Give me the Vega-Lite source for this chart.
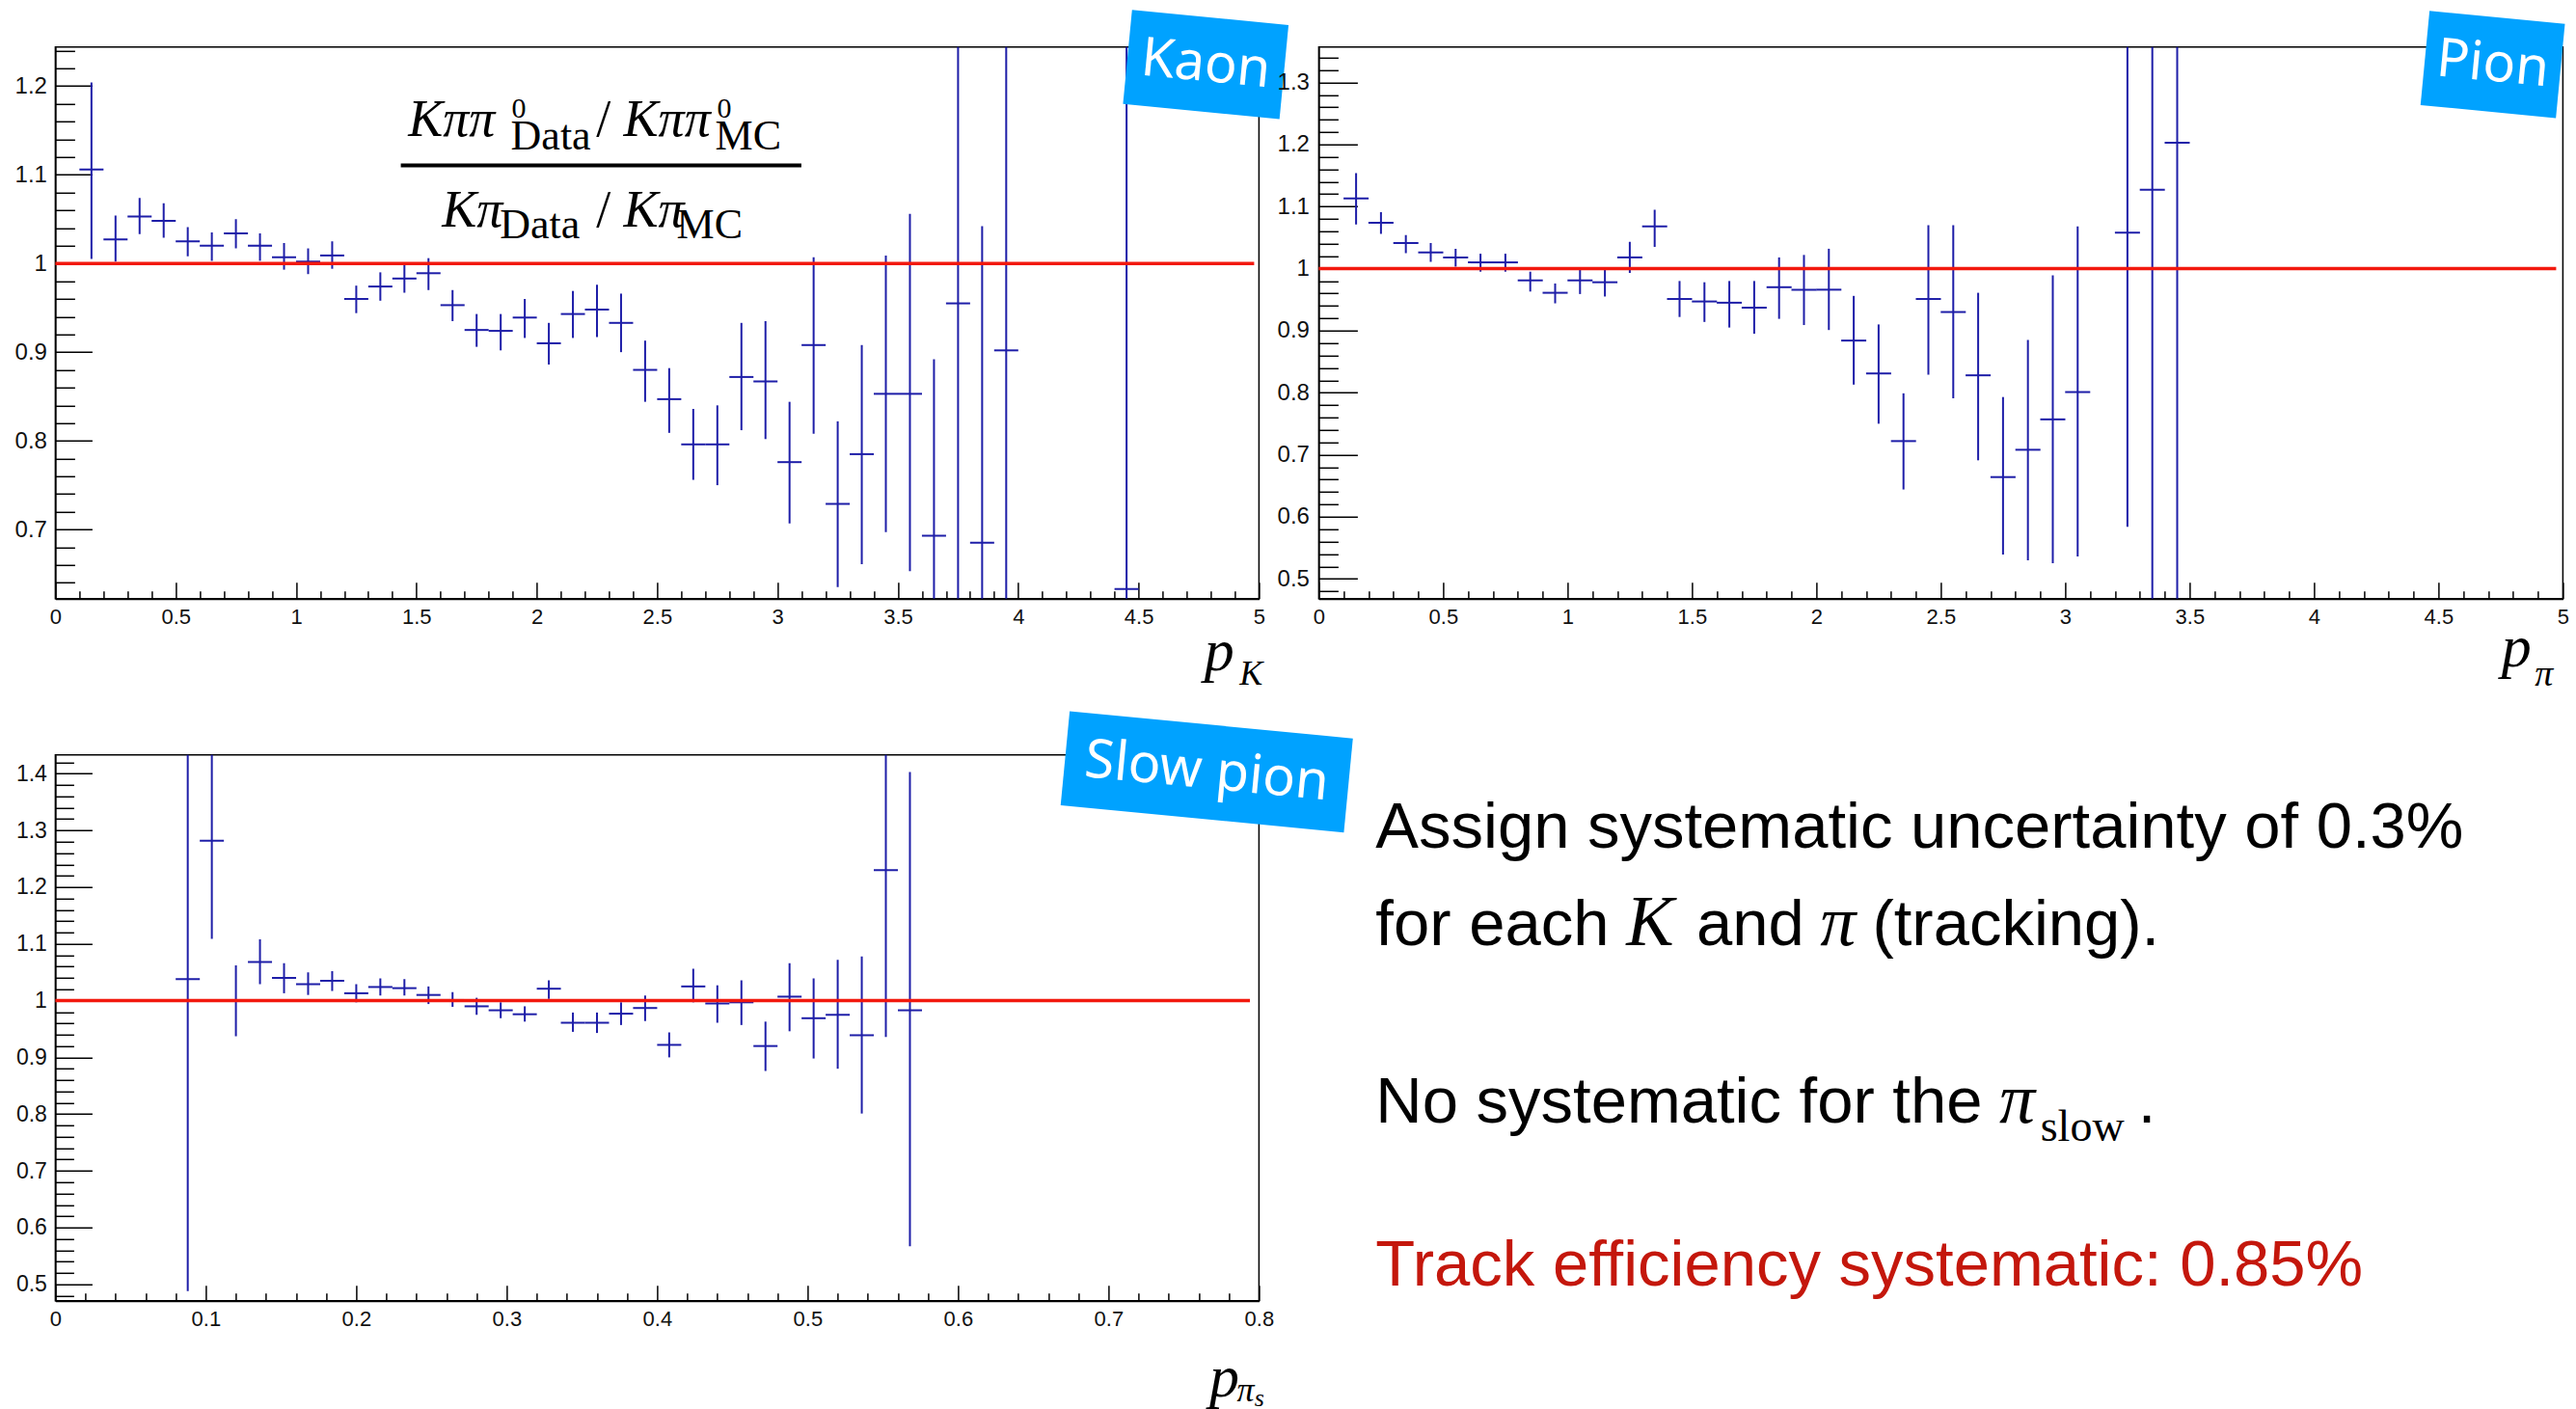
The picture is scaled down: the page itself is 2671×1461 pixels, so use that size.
{
  "$schema": "https://vega.github.io/schema/vega-lite/v6.json",
  "background": "white",
  "padding": {"left": 13.4, "top": 8.8, "right": 0, "bottom": 0},
  "columns": 2,
  "spacing": {"row": 162, "column": 62},
  "bounds": "flush",
  "align": "each",
  "datasets": {
    "kaon": [
      {"p": 0.15, "v": 1.106, "lo": 1.005, "hi": 1.204},
      {"p": 0.25, "v": 1.027, "lo": 1.002, "hi": 1.054},
      {"p": 0.35, "v": 1.053, "lo": 1.033, "hi": 1.074},
      {"p": 0.45, "v": 1.048, "lo": 1.029, "hi": 1.068},
      {"p": 0.55, "v": 1.025, "lo": 1.008, "hi": 1.041},
      {"p": 0.65, "v": 1.020, "lo": 1.003, "hi": 1.035},
      {"p": 0.75, "v": 1.034, "lo": 1.017, "hi": 1.050},
      {"p": 0.85, "v": 1.020, "lo": 1.003, "hi": 1.034},
      {"p": 0.95, "v": 1.007, "lo": 0.993, "hi": 1.023},
      {"p": 1.05, "v": 1.002, "lo": 0.988, "hi": 1.017},
      {"p": 1.15, "v": 1.009, "lo": 0.994, "hi": 1.025},
      {"p": 1.25, "v": 0.960, "lo": 0.944, "hi": 0.975},
      {"p": 1.35, "v": 0.974, "lo": 0.958, "hi": 0.990},
      {"p": 1.45, "v": 0.983, "lo": 0.967, "hi": 1.000},
      {"p": 1.55, "v": 0.989, "lo": 0.970, "hi": 1.006},
      {"p": 1.65, "v": 0.953, "lo": 0.935, "hi": 0.970},
      {"p": 1.75, "v": 0.925, "lo": 0.906, "hi": 0.943},
      {"p": 1.85, "v": 0.924, "lo": 0.902, "hi": 0.943},
      {"p": 1.95, "v": 0.939, "lo": 0.916, "hi": 0.960},
      {"p": 2.05, "v": 0.910, "lo": 0.886, "hi": 0.933},
      {"p": 2.15, "v": 0.943, "lo": 0.916, "hi": 0.969},
      {"p": 2.25, "v": 0.948, "lo": 0.917, "hi": 0.976},
      {"p": 2.35, "v": 0.933, "lo": 0.900, "hi": 0.966},
      {"p": 2.45, "v": 0.880, "lo": 0.844, "hi": 0.913},
      {"p": 2.55, "v": 0.847, "lo": 0.809, "hi": 0.882},
      {"p": 2.65, "v": 0.796, "lo": 0.756, "hi": 0.836},
      {"p": 2.75, "v": 0.796, "lo": 0.750, "hi": 0.840},
      {"p": 2.85, "v": 0.872, "lo": 0.812, "hi": 0.933},
      {"p": 2.95, "v": 0.867, "lo": 0.802, "hi": 0.935},
      {"p": 3.05, "v": 0.776, "lo": 0.707, "hi": 0.844},
      {"p": 3.15, "v": 0.908, "lo": 0.808, "hi": 1.007},
      {"p": 3.25, "v": 0.729, "lo": 0.635, "hi": 0.822},
      {"p": 3.35, "v": 0.785, "lo": 0.661, "hi": 0.908},
      {"p": 3.45, "v": 0.853, "lo": 0.697, "hi": 1.009},
      {"p": 3.55, "v": 0.853, "lo": 0.653, "hi": 1.056},
      {"p": 3.65, "v": 0.693, "lo": 0.494, "hi": 0.892},
      {"p": 3.75, "v": 0.955, "lo": 0.51, "hi": 1.40},
      {"p": 3.85, "v": 0.685, "lo": 0.33, "hi": 1.042},
      {"p": 3.95, "v": 0.902, "lo": 0.40, "hi": 1.40},
      {"p": 4.45, "v": 0.633, "lo": -0.36, "hi": 1.63}
    ],
    "pion": [
      {"p": 0.15, "v": 1.113, "lo": 1.071, "hi": 1.154},
      {"p": 0.25, "v": 1.074, "lo": 1.056, "hi": 1.091},
      {"p": 0.35, "v": 1.041, "lo": 1.025, "hi": 1.054},
      {"p": 0.45, "v": 1.026, "lo": 1.011, "hi": 1.041},
      {"p": 0.55, "v": 1.018, "lo": 1.003, "hi": 1.032},
      {"p": 0.65, "v": 1.010, "lo": 0.995, "hi": 1.024},
      {"p": 0.75, "v": 1.010, "lo": 0.995, "hi": 1.024},
      {"p": 0.85, "v": 0.981, "lo": 0.963, "hi": 0.995},
      {"p": 0.95, "v": 0.961, "lo": 0.944, "hi": 0.976},
      {"p": 1.05, "v": 0.981, "lo": 0.959, "hi": 1.000},
      {"p": 1.15, "v": 0.978, "lo": 0.955, "hi": 0.999},
      {"p": 1.25, "v": 1.018, "lo": 0.993, "hi": 1.043},
      {"p": 1.35, "v": 1.068, "lo": 1.035, "hi": 1.095},
      {"p": 1.45, "v": 0.951, "lo": 0.922, "hi": 0.980},
      {"p": 1.55, "v": 0.947, "lo": 0.914, "hi": 0.978},
      {"p": 1.65, "v": 0.945, "lo": 0.905, "hi": 0.980},
      {"p": 1.75, "v": 0.937, "lo": 0.895, "hi": 0.980},
      {"p": 1.85, "v": 0.970, "lo": 0.919, "hi": 1.018},
      {"p": 1.95, "v": 0.966, "lo": 0.909, "hi": 1.022},
      {"p": 2.05, "v": 0.966, "lo": 0.901, "hi": 1.032},
      {"p": 2.15, "v": 0.884, "lo": 0.813, "hi": 0.956},
      {"p": 2.25, "v": 0.831, "lo": 0.750, "hi": 0.910},
      {"p": 2.35, "v": 0.722, "lo": 0.644, "hi": 0.799},
      {"p": 2.45, "v": 0.951, "lo": 0.829, "hi": 1.070},
      {"p": 2.55, "v": 0.930, "lo": 0.791, "hi": 1.070},
      {"p": 2.65, "v": 0.828, "lo": 0.691, "hi": 0.961},
      {"p": 2.75, "v": 0.664, "lo": 0.539, "hi": 0.793},
      {"p": 2.85, "v": 0.708, "lo": 0.530, "hi": 0.885},
      {"p": 2.95, "v": 0.757, "lo": 0.525, "hi": 0.989},
      {"p": 3.05, "v": 0.801, "lo": 0.536, "hi": 1.068},
      {"p": 3.25, "v": 1.058, "lo": 0.584, "hi": 1.53},
      {"p": 3.35, "v": 1.127, "lo": 0.35, "hi": 1.90},
      {"p": 3.45, "v": 1.203, "lo": 0.40, "hi": 2.00}
    ],
    "slowpion": [
      {"p": 0.088, "v": 1.038, "lo": 0.488, "hi": 1.60},
      {"p": 0.104, "v": 1.282, "lo": 1.109, "hi": 1.46},
      {"p": 0.120, "v": 1.000, "lo": 0.937, "hi": 1.062},
      {"p": 0.136, "v": 1.068, "lo": 1.029, "hi": 1.108},
      {"p": 0.152, "v": 1.040, "lo": 1.013, "hi": 1.066},
      {"p": 0.168, "v": 1.029, "lo": 1.010, "hi": 1.050},
      {"p": 0.184, "v": 1.035, "lo": 1.017, "hi": 1.052},
      {"p": 0.200, "v": 1.013, "lo": 0.997, "hi": 1.029},
      {"p": 0.216, "v": 1.024, "lo": 1.009, "hi": 1.039},
      {"p": 0.232, "v": 1.022, "lo": 1.009, "hi": 1.038},
      {"p": 0.248, "v": 1.010, "lo": 0.994, "hi": 1.025},
      {"p": 0.264, "v": 1.001, "lo": 0.989, "hi": 1.015},
      {"p": 0.280, "v": 0.990, "lo": 0.975, "hi": 1.005},
      {"p": 0.296, "v": 0.983, "lo": 0.969, "hi": 0.997},
      {"p": 0.312, "v": 0.976, "lo": 0.963, "hi": 0.990},
      {"p": 0.328, "v": 1.021, "lo": 1.003, "hi": 1.036},
      {"p": 0.344, "v": 0.961, "lo": 0.945, "hi": 0.979},
      {"p": 0.360, "v": 0.961, "lo": 0.943, "hi": 0.979},
      {"p": 0.376, "v": 0.977, "lo": 0.957, "hi": 0.997},
      {"p": 0.392, "v": 0.987, "lo": 0.964, "hi": 1.009},
      {"p": 0.408, "v": 0.922, "lo": 0.900, "hi": 0.944},
      {"p": 0.424, "v": 1.025, "lo": 0.997, "hi": 1.056},
      {"p": 0.440, "v": 0.995, "lo": 0.961, "hi": 1.027},
      {"p": 0.456, "v": 0.997, "lo": 0.957, "hi": 1.036},
      {"p": 0.472, "v": 0.920, "lo": 0.876, "hi": 0.963},
      {"p": 0.488, "v": 1.007, "lo": 0.946, "hi": 1.066},
      {"p": 0.504, "v": 0.969, "lo": 0.898, "hi": 1.039},
      {"p": 0.520, "v": 0.975, "lo": 0.880, "hi": 1.072},
      {"p": 0.536, "v": 0.939, "lo": 0.801, "hi": 1.078},
      {"p": 0.552, "v": 1.230, "lo": 0.936, "hi": 1.55},
      {"p": 0.568, "v": 0.983, "lo": 0.567, "hi": 1.403}
    ]
  },
  "concat": [
    {
      "width": 1248,
      "height": 572,
      "layer": [
        {
          "data": {"name": "kaon"},
          "mark": {"type": "rule", "color": "#1e1ea8", "strokeWidth": 2, "clip": true},
          "encoding": {
            "x": {"field": "p", "type": "quantitative", "scale": {"domain": [0, 5], "nice": false, "zero": false},
              "axis": {"title": null, "tickCount": 500, "values": [0,0.1,0.2,0.3,0.4,0.5,0.6,0.7,0.8,0.9,1,1.1,1.2,1.3,1.4,1.5,1.6,1.7,1.8,1.9,2,2.1,2.2,2.3,2.4,2.5,2.6,2.7,2.8,2.9,3,3.1,3.2,3.3,3.4,3.5,3.6,3.7,3.8,3.9,4,4.1,4.2,4.3,4.4,4.5,4.6,4.7,4.8,4.9,5],
                "format": "~g", "labelExpr": "abs(datum.value*2-round(datum.value*2))<0.001 ? datum.label : ''",
                "tickSize": {"condition": {"test": "abs(datum.value*2-round(datum.value*2))<0.001", "value": -17}, "value": -8},
                "labelOverlap": false, "labelPadding": 26, "labelFontSize": 22, "domainWidth": 2}},
            "y": {"field": "lo", "type": "quantitative", "scale": {"domain": [0.622, 1.244], "nice": false, "zero": false},
              "axis": {"title": null, "tickCount": 500, "values": [0.64,0.66,0.68,0.7,0.72,0.74,0.76,0.78,0.8,0.82,0.84,0.86,0.88,0.9,0.92,0.94,0.96,0.98,1,1.02,1.04,1.06,1.08,1.1,1.12,1.14,1.16,1.18,1.2,1.22,1.24],
                "format": "~g", "labelExpr": "abs(datum.value*10-round(datum.value*10))<0.001 ? datum.label : ''",
                "tickSize": {"condition": {"test": "abs(datum.value*10-round(datum.value*10))<0.001", "value": -38}, "value": -20},
                "labelOverlap": false, "labelPadding": 47, "labelFontSize": 24}},
            "y2": {"field": "hi"}
          }
        },
        {
          "data": {"name": "kaon"},
          "mark": {"type": "tick", "orient": "horizontal", "size": 25, "thickness": 2, "color": "#1e1ea8", "opacity": 1, "clip": true},
          "encoding": {"x": {"field": "p", "type": "quantitative"}, "y": {"field": "v", "type": "quantitative"}}
        },
        {
          "data": {"values": [{"level": 1, "from": 0, "to": 4.98}]},
          "mark": {"type": "rule", "color": "#f2190e", "strokeWidth": 3.5},
          "encoding": {"x": {"field": "from", "type": "quantitative"}, "x2": {"field": "to"}, "y": {"field": "level", "type": "quantitative"}}
        },
        {
          "data": {"values": [{}]},
          "mark": {"type": "rule", "color": "#000", "strokeWidth": 4},
          "encoding": {"x": {"datum": 1.4351}, "x2": {"datum": 3.099}, "y": {"datum": 1.1106}}
        },
        {"data": {"values": [{}]}, "mark": {"type": "text", "text": "Kππ", "font": "Liberation Serif", "fontStyle": "italic", "fontSize": 54, "align": "left", "baseline": "alphabetic", "color": "#000"}, "encoding": {"x": {"datum": 1.466}, "y": {"datum": 1.1432}}},
        {"data": {"values": [{}]}, "mark": {"type": "text", "text": "0", "font": "Liberation Serif", "fontSize": 30, "align": "left", "baseline": "alphabetic", "color": "#000"}, "encoding": {"x": {"datum": 1.8958}, "y": {"datum": 1.1649}}},
        {"data": {"values": [{}]}, "mark": {"type": "text", "text": "Data", "font": "Liberation Serif", "fontSize": 44, "align": "left", "baseline": "alphabetic", "color": "#000"}, "encoding": {"x": {"datum": 1.8918}, "y": {"datum": 1.1287}}},
        {"data": {"values": [{}]}, "mark": {"type": "text", "text": "/", "font": "Liberation Serif", "fontSize": 54, "align": "left", "baseline": "alphabetic", "color": "#000"}, "encoding": {"x": {"datum": 2.2472}, "y": {"datum": 1.1432}}},
        {"data": {"values": [{}]}, "mark": {"type": "text", "text": "Kππ", "font": "Liberation Serif", "fontStyle": "italic", "fontSize": 54, "align": "left", "baseline": "alphabetic", "color": "#000"}, "encoding": {"x": {"datum": 2.3606}, "y": {"datum": 1.1432}}},
        {"data": {"values": [{}]}, "mark": {"type": "text", "text": "0", "font": "Liberation Serif", "fontSize": 30, "align": "left", "baseline": "alphabetic", "color": "#000"}, "encoding": {"x": {"datum": 2.749}, "y": {"datum": 1.1649}}},
        {"data": {"values": [{}]}, "mark": {"type": "text", "text": "MC", "font": "Liberation Serif", "fontSize": 44, "align": "left", "baseline": "alphabetic", "color": "#000"}, "encoding": {"x": {"datum": 2.741}, "y": {"datum": 1.1287}}},
        {"data": {"values": [{}]}, "mark": {"type": "text", "text": "Kπ", "font": "Liberation Serif", "fontStyle": "italic", "fontSize": 54, "align": "left", "baseline": "alphabetic", "color": "#000"}, "encoding": {"x": {"datum": 1.6062}, "y": {"datum": 1.0417}}},
        {"data": {"values": [{}]}, "mark": {"type": "text", "text": "Data", "font": "Liberation Serif", "fontSize": 44, "align": "left", "baseline": "alphabetic", "color": "#000"}, "encoding": {"x": {"datum": 1.8466}, "y": {"datum": 1.029}}},
        {"data": {"values": [{}]}, "mark": {"type": "text", "text": "/", "font": "Liberation Serif", "fontSize": 54, "align": "left", "baseline": "alphabetic", "color": "#000"}, "encoding": {"x": {"datum": 2.2472}, "y": {"datum": 1.0417}}},
        {"data": {"values": [{}]}, "mark": {"type": "text", "text": "Kπ", "font": "Liberation Serif", "fontStyle": "italic", "fontSize": 54, "align": "left", "baseline": "alphabetic", "color": "#000"}, "encoding": {"x": {"datum": 2.3606}, "y": {"datum": 1.0417}}},
        {"data": {"values": [{}]}, "mark": {"type": "text", "text": "MC", "font": "Liberation Serif", "fontSize": 44, "align": "left", "baseline": "alphabetic", "color": "#000"}, "encoding": {"x": {"datum": 2.5809}, "y": {"datum": 1.029}}},
        {"data": {"values": [{}]}, "mark": {"type": "text", "text": "p", "font": "Liberation Serif", "fontStyle": "italic", "fontSize": 62, "align": "left", "baseline": "alphabetic", "color": "#000"}, "encoding": {"x": {"datum": 4.773}, "y": {"datum": 0.5414}}},
        {"data": {"values": [{}]}, "mark": {"type": "text", "text": "K", "font": "Liberation Serif", "fontStyle": "italic", "fontSize": 36, "align": "left", "baseline": "alphabetic", "color": "#000"}, "encoding": {"x": {"datum": 4.919}, "y": {"datum": 0.5247}}},
        {"data": {"values": [{"label": "Kaon"}]}, "mark": {"type": "point", "shape": "M-1,-0.601L1,-0.601L1,0.601L-1,0.601Z", "size": 26569, "angle": 5.5, "filled": true, "fill": "#00a2ff", "opacity": 1, "strokeWidth": 0}, "encoding": {"x": {"datum": 4.779}, "y": {"datum": 1.2243}}},
        {"data": {"values": [{"label": "Kaon"}]}, "mark": {"type": "text", "angle": 5.5, "font": "Noto Sans", "fontSize": 56, "align": "center", "baseline": "middle", "color": "#ffffff"}, "encoding": {"x": {"datum": 4.779}, "y": {"datum": 1.2243}, "text": {"field": "label"}}}
      ]
    },
    {
      "width": 1290,
      "height": 572,
      "layer": [
        {
          "data": {"name": "pion"},
          "mark": {"type": "rule", "color": "#1e1ea8", "strokeWidth": 2, "clip": true},
          "encoding": {
            "x": {"field": "p", "type": "quantitative", "scale": {"domain": [0, 5], "nice": false, "zero": false},
              "axis": {"title": null, "tickCount": 500, "values": [0,0.1,0.2,0.3,0.4,0.5,0.6,0.7,0.8,0.9,1,1.1,1.2,1.3,1.4,1.5,1.6,1.7,1.8,1.9,2,2.1,2.2,2.3,2.4,2.5,2.6,2.7,2.8,2.9,3,3.1,3.2,3.3,3.4,3.5,3.6,3.7,3.8,3.9,4,4.1,4.2,4.3,4.4,4.5,4.6,4.7,4.8,4.9,5],
                "format": "~g", "labelExpr": "abs(datum.value*2-round(datum.value*2))<0.001 ? datum.label : ''",
                "tickSize": {"condition": {"test": "abs(datum.value*2-round(datum.value*2))<0.001", "value": -17}, "value": -8},
                "labelOverlap": false, "labelPadding": 26, "labelFontSize": 22, "domainWidth": 2}},
            "y": {"field": "lo", "type": "quantitative", "scale": {"domain": [0.468, 1.357], "nice": false, "zero": false},
              "axis": {"title": null, "tickCount": 500, "values": [0.48,0.5,0.52,0.54,0.56,0.58,0.6,0.62,0.64,0.66,0.68,0.7,0.72,0.74,0.76,0.78,0.8,0.82,0.84,0.86,0.88,0.9,0.92,0.94,0.96,0.98,1,1.02,1.04,1.06,1.08,1.1,1.12,1.14,1.16,1.18,1.2,1.22,1.24,1.26,1.28,1.3,1.32,1.34],
                "format": "~g", "labelExpr": "abs(datum.value*10-round(datum.value*10))<0.001 ? datum.label : ''",
                "tickSize": {"condition": {"test": "abs(datum.value*10-round(datum.value*10))<0.001", "value": -40}, "value": -20},
                "labelOverlap": false, "labelPadding": 50, "labelFontSize": 24}},
            "y2": {"field": "hi"}
          }
        },
        {
          "data": {"name": "pion"},
          "mark": {"type": "tick", "orient": "horizontal", "size": 26, "thickness": 2, "color": "#1e1ea8", "opacity": 1, "clip": true},
          "encoding": {"x": {"field": "p", "type": "quantitative"}, "y": {"field": "v", "type": "quantitative"}}
        },
        {
          "data": {"values": [{"level": 1, "from": 0, "to": 4.973}]},
          "mark": {"type": "rule", "color": "#f2190e", "strokeWidth": 3.5},
          "encoding": {"x": {"field": "from", "type": "quantitative"}, "x2": {"field": "to"}, "y": {"field": "level", "type": "quantitative"}}
        },
        {"data": {"values": [{}]}, "mark": {"type": "text", "text": "p", "font": "Liberation Serif", "fontStyle": "italic", "fontSize": 62, "align": "left", "baseline": "alphabetic", "color": "#000"}, "encoding": {"x": {"datum": 4.753}, "y": {"datum": 0.3586}}},
        {"data": {"values": [{}]}, "mark": {"type": "text", "text": "π", "font": "Liberation Serif", "fontStyle": "italic", "fontSize": 38, "align": "left", "baseline": "alphabetic", "color": "#000"}, "encoding": {"x": {"datum": 4.887}, "y": {"datum": 0.3279}}},
        {"data": {"values": [{"label": "Pion"}]}, "mark": {"type": "point", "shape": "M-1,-0.695L1,-0.695L1,0.695L-1,0.695Z", "size": 19881, "angle": 5.5, "filled": true, "fill": "#00a2ff", "opacity": 1, "strokeWidth": 0}, "encoding": {"x": {"datum": 4.718}, "y": {"datum": 1.3289}}},
        {"data": {"values": [{"label": "Pion"}]}, "mark": {"type": "text", "angle": 5.5, "font": "Noto Sans", "fontSize": 56, "align": "center", "baseline": "middle", "color": "#ffffff"}, "encoding": {"x": {"datum": 4.718}, "y": {"datum": 1.3289}, "text": {"field": "label"}}}
      ]
    },
    {
      "width": 1248,
      "height": 566,
      "layer": [
        {
          "data": {"name": "slowpion"},
          "mark": {"type": "rule", "color": "#1e1ea8", "strokeWidth": 2, "clip": true},
          "encoding": {
            "x": {"field": "p", "type": "quantitative", "scale": {"domain": [0, 0.8], "nice": false, "zero": false},
              "axis": {"title": null, "tickCount": 500, "values": [0,0.02,0.04,0.06,0.08,0.1,0.12,0.14,0.16,0.18,0.2,0.22,0.24,0.26,0.28,0.3,0.32,0.34,0.36,0.38,0.4,0.42,0.44,0.46,0.48,0.5,0.52,0.54,0.56,0.58,0.6,0.62,0.64,0.66,0.68,0.7,0.72,0.74,0.76,0.78,0.8],
                "format": "~g", "labelExpr": "abs(datum.value*10-round(datum.value*10))<0.001 ? datum.label : ''",
                "tickSize": {"condition": {"test": "abs(datum.value*10-round(datum.value*10))<0.001", "value": -16}, "value": -8},
                "labelOverlap": false, "labelPadding": 25, "labelFontSize": 22, "domainWidth": 2}},
            "y": {"field": "lo", "type": "quantitative", "scale": {"domain": [0.471, 1.433], "nice": false, "zero": false},
              "axis": {"title": null, "tickCount": 500, "values": [0.48,0.5,0.52,0.54,0.56,0.58,0.6,0.62,0.64,0.66,0.68,0.7,0.72,0.74,0.76,0.78,0.8,0.82,0.84,0.86,0.88,0.9,0.92,0.94,0.96,0.98,1,1.02,1.04,1.06,1.08,1.1,1.12,1.14,1.16,1.18,1.2,1.22,1.24,1.26,1.28,1.3,1.32,1.34,1.36,1.38,1.4,1.42],
                "format": "~g", "labelExpr": "abs(datum.value*10-round(datum.value*10))<0.001 ? datum.label : ''",
                "tickSize": {"condition": {"test": "abs(datum.value*10-round(datum.value*10))<0.001", "value": -38}, "value": -19},
                "labelOverlap": false, "labelPadding": 47, "labelFontSize": 23}},
            "y2": {"field": "hi"}
          }
        },
        {
          "data": {"name": "slowpion"},
          "mark": {"type": "tick", "orient": "horizontal", "size": 25, "thickness": 2, "color": "#1e1ea8", "opacity": 1, "clip": true},
          "encoding": {"x": {"field": "p", "type": "quantitative"}, "y": {"field": "v", "type": "quantitative"}}
        },
        {
          "data": {"values": [{"level": 1, "from": 0, "to": 0.794}]},
          "mark": {"type": "rule", "color": "#f2190e", "strokeWidth": 3.5},
          "encoding": {"x": {"field": "from", "type": "quantitative"}, "x2": {"field": "to"}, "y": {"field": "level", "type": "quantitative"}}
        },
        {"data": {"values": [{}]}, "mark": {"type": "text", "text": "p", "font": "Liberation Serif", "fontStyle": "italic", "fontSize": 62, "align": "left", "baseline": "alphabetic", "color": "#000"}, "encoding": {"x": {"datum": 0.7671}, "y": {"datum": 0.302}}},
        {"data": {"values": [{}]}, "mark": {"type": "text", "text": "π", "font": "Liberation Serif", "fontStyle": "italic", "fontSize": 36, "align": "left", "baseline": "alphabetic", "color": "#000"}, "encoding": {"x": {"datum": 0.7853}, "y": {"datum": 0.294}}},
        {"data": {"values": [{}]}, "mark": {"type": "text", "text": "s", "font": "Liberation Serif", "fontStyle": "italic", "fontSize": 26, "align": "left", "baseline": "alphabetic", "color": "#000"}, "encoding": {"x": {"datum": 0.797}, "y": {"datum": 0.286}}},
        {"data": {"values": [{"label": "Slow pion"}]}, "mark": {"type": "point", "shape": "M-1,-0.332L1,-0.332L1,0.332L-1,0.332Z", "size": 87025, "angle": 5.5, "filled": true, "fill": "#00a2ff", "opacity": 1, "strokeWidth": 0}, "encoding": {"x": {"datum": 0.7653}, "y": {"datum": 1.4033}}},
        {"data": {"values": [{"label": "Slow pion"}]}, "mark": {"type": "text", "angle": 5.5, "font": "Noto Sans", "fontSize": 56, "align": "center", "baseline": "middle", "color": "#ffffff"}, "encoding": {"x": {"datum": 0.7653}, "y": {"datum": 1.4033}, "text": {"field": "label"}}}
      ]
    },
    {
      "width": 1290,
      "height": 566,
      "view": {"stroke": null},
      "layer": [
        {"data": {"values": [{}]}, "mark": {"type": "text", "text": "Assign systematic uncertainty of 0.3%", "font": "Liberation Sans", "fontSize": 67, "align": "left", "baseline": "alphabetic", "color": "#000"},
         "encoding": {"x": {"datum": 0.0457, "type": "quantitative", "scale": {"domain": [0, 1], "nice": false, "zero": false}, "axis": null},
                      "y": {"datum": 0.1701, "type": "quantitative", "scale": {"domain": [0, 1], "nice": false, "zero": false, "reverse": true}, "axis": null}}},
        {"data": {"values": [{}]}, "mark": {"type": "text", "text": "for each", "font": "Liberation Sans", "fontSize": 67, "align": "left", "baseline": "alphabetic", "color": "#000"}, "encoding": {"x": {"datum": 0.0457}, "y": {"datum": 0.3479}}},
        {"data": {"values": [{}]}, "mark": {"type": "text", "text": "K", "font": "Liberation Serif", "fontStyle": "italic", "fontSize": 74, "align": "left", "baseline": "alphabetic", "color": "#000"}, "encoding": {"x": {"datum": 0.2471}, "y": {"datum": 0.3479}}},
        {"data": {"values": [{}]}, "mark": {"type": "text", "text": "and", "font": "Liberation Sans", "fontSize": 67, "align": "left", "baseline": "alphabetic", "color": "#000"}, "encoding": {"x": {"datum": 0.3036}, "y": {"datum": 0.3479}}},
        {"data": {"values": [{}]}, "mark": {"type": "text", "text": "π", "font": "Liberation Serif", "fontStyle": "italic", "fontSize": 74, "align": "left", "baseline": "alphabetic", "color": "#000"}, "encoding": {"x": {"datum": 0.4029}, "y": {"datum": 0.3479}}},
        {"data": {"values": [{}]}, "mark": {"type": "text", "text": "(tracking).", "font": "Liberation Sans", "fontSize": 67, "align": "left", "baseline": "alphabetic", "color": "#000"}, "encoding": {"x": {"datum": 0.445}, "y": {"datum": 0.3479}}},
        {"data": {"values": [{}]}, "mark": {"type": "text", "text": "No systematic for the", "font": "Liberation Sans", "fontSize": 67, "align": "left", "baseline": "alphabetic", "color": "#000"}, "encoding": {"x": {"datum": 0.0457}, "y": {"datum": 0.6739}}},
        {"data": {"values": [{}]}, "mark": {"type": "text", "text": "π", "font": "Liberation Serif", "fontStyle": "italic", "fontSize": 74, "align": "left", "baseline": "alphabetic", "color": "#000"}, "encoding": {"x": {"datum": 0.547}, "y": {"datum": 0.6739}}},
        {"data": {"values": [{}]}, "mark": {"type": "text", "text": "slow", "font": "Liberation Serif", "fontSize": 46, "align": "left", "baseline": "alphabetic", "color": "#000"}, "encoding": {"x": {"datum": 0.5801}, "y": {"datum": 0.7076}}},
        {"data": {"values": [{}]}, "mark": {"type": "text", "text": ".", "font": "Liberation Sans", "fontSize": 67, "align": "left", "baseline": "alphabetic", "color": "#000"}, "encoding": {"x": {"datum": 0.6585}, "y": {"datum": 0.6739}}},
        {"data": {"values": [{}]}, "mark": {"type": "text", "text": "Track efficiency systematic: 0.85%", "font": "Liberation Sans", "fontSize": 67, "align": "left", "baseline": "alphabetic", "color": "#c4170c"}, "encoding": {"x": {"datum": 0.0457}, "y": {"datum": 0.9714}}}
      ]
    }
  ],
  "config": {
    "view": {"stroke": "#000", "strokeWidth": 1.5},
    "axis": {"grid": false, "domainColor": "#000", "domainWidth": 1.5, "tickColor": "#000", "tickWidth": 1.5, "labelColor": "#111", "labelFont": "Liberation Sans", "labelOverlap": false, "labelFlush": false, "labelBound": false}
  }
}
